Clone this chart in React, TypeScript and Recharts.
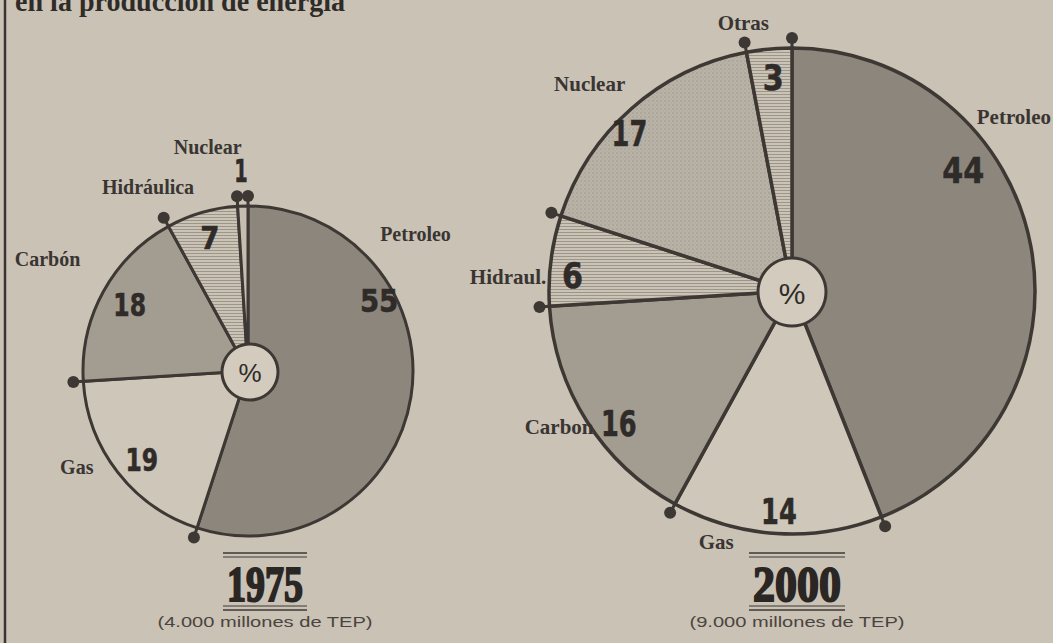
import React from 'react';
import { PieChart, Pie, Cell } from 'recharts';

// ---- data ----
const categories1975 = ['Petroleo', 'Gas', 'Carbón', 'Hidráulica', 'Nuclear'];
const values1975 = [55, 19, 18, 7, 1];
const categories2000 = ['Petroleo', 'Gas', 'Carbon', 'Hidraul.', 'Nuclear', 'Otras'];
const values2000 = [44, 14, 16, 6, 17, 3];
const title = 'en la producción de energía';
const year1975 = '1975';
const year2000 = '2000';
const sub1975 = '(4.000 millones de TEP)';
const sub2000 = '(9.000 millones de TEP)';
const hubText = '%';

// ---- styles ----
const BG = '#c9c2b5';
const INK = '#3d3834';
const fills1975 = ['#8c867d', '#cdc6b9', '#a39c91', 'url(#hatch)', '#c4bdb0'];
const fills2000 = ['#8c867d', '#cec7ba', '#a39c91', 'url(#hatch)', 'url(#speck)', 'url(#hatch)'];

// label layout (angle in degrees, radius factor)
const numPos1975: [number, number][] = [[28, 0.9], [-140, 0.84], [151, 0.82], [106, 0.84], [92, 1.21]];
const namePos1975: [number, number][] = [[39.2, 1.31], [-150.7, 1.19], [150.9, 1.39], [118.5, 1.27], [100.2, 1.38]];
const numPos2000: [number, number][] = [[35, 0.86], [-93.4, 0.91], [-142.4, 0.9], [176, 0.905], [136, 0.93], [95, 0.88]];
const namePos2000: [number, number][] = [[36.6, 1.2], [-106.8, 1.08], [210.3, 1.11], [177.2, 1.17], [134.4, 1.19], [100.3, 1.12]];

const data1975 = categories1975.map((name, i) => ({ name, value: values1975[i] }));
const data2000 = categories2000.map((name, i) => ({ name, value: values2000[i] }));
const hub = [{ name: 'hub', value: 1 }];

const RAD = Math.PI / 180;
const polar = (cx: number, cy: number, r: number, a: number) => ({
  x: cx + r * Math.cos(a * RAD),
  y: cy - r * Math.sin(a * RAD),
});

const makeLabel = (
  numPos: [number, number][],
  namePos: [number, number][],
  numSize: number,
  nameSize: number
) => (props: any) => {
  const { cx, cy, outerRadius, startAngle, index, name, value } = props;
  const R = Number(outerRadius);
  const n = numPos[index];
  const m = namePos[index];
  const np = polar(cx, cy, R * n[1], n[0]);
  let mp = polar(cx, cy, R * m[1], m[0]);
  const d0 = polar(cx, cy, R, startAngle);
  const d1 = polar(cx, cy, R + 10, startAngle);
  const str = String(value);
  const w = str.split('').reduce((s, c) => s + (c === '1' ? 0.42 : 0.6), 0) * numSize;
  // keep the right-edge name inside the picture
  let anchor: 'middle' | 'end' = 'middle';
  const approxW = String(name).length * nameSize * 0.47;
  if (mp.x + approxW / 2 > 1051) {
    anchor = 'end';
    mp = { x: 1051, y: mp.y };
  }
  return (
    <g key={`lbl-${index}`}>
      <line x1={d0.x} y1={d0.y} x2={d1.x} y2={d1.y} stroke={INK} strokeWidth={3} />
      <circle cx={d1.x} cy={d1.y} r={6} fill={INK} />
      <text
        x={np.x}
        y={np.y}
        textAnchor="middle"
        dominantBaseline="central"
        fontFamily="'DejaVu Sans', sans-serif"
        fontWeight="bold"
        fontSize={numSize}
        textLength={w}
        lengthAdjust="spacingAndGlyphs"
        fill="#2f2b28"
        stroke="#2f2b28"
        strokeWidth={0.6}
      >
        {value}
      </text>
      <text
        x={mp.x}
        y={mp.y}
        textAnchor={anchor}
        dominantBaseline="central"
        fontFamily="'Liberation Serif', 'DejaVu Serif', serif"
        fontWeight="bold"
        fontSize={nameSize}
        fill="#3a3532"
      >
        {name}
      </text>
    </g>
  );
};

const label1975 = makeLabel(numPos1975, namePos1975, 32, 20);
const label2000 = makeLabel(numPos2000, namePos2000, 35, 21);

const YearBlock = ({ x, year, sub, yearW, subW }: { x: number; year: string; sub: string; yearW: number; subW: number }) => (
  <g>
    <line x1={x - yearW / 2 - 4} x2={x + yearW / 2 + 4} y1={553} y2={553} stroke={INK} strokeWidth={1.5} />
    <line x1={x - yearW / 2 - 4} x2={x + yearW / 2 + 4} y1={557} y2={557} stroke={INK} strokeWidth={1} />
    <text
      x={x}
      y={601}
      textAnchor="middle"
      fontFamily="'Liberation Serif', 'DejaVu Serif', serif"
      fontWeight="bold"
      fontSize={50}
      textLength={yearW}
      lengthAdjust="spacingAndGlyphs"
      fill="#2a2624"
      stroke="#2a2624"
      strokeWidth={2}
    >
      {year}
    </text>
    <line x1={x - yearW / 2 - 4} x2={x + yearW / 2 + 4} y1={606} y2={606} stroke={INK} strokeWidth={1} />
    <line x1={x - yearW / 2 - 4} x2={x + yearW / 2 + 4} y1={610} y2={610} stroke={INK} strokeWidth={1.5} />
    <text
      x={x}
      y={627}
      textAnchor="middle"
      fontFamily="'Liberation Sans', sans-serif"
      fontSize={14}
      textLength={subW}
      lengthAdjust="spacingAndGlyphs"
      fill="#4a4440"
    >
      {sub}
    </text>
  </g>
);

const Hub = ({ cx, cy, r }: { cx: number; cy: number; r: number }) => (
  <>
    <Pie
      data={hub}
      dataKey="value"
      cx={cx}
      cy={cy}
      outerRadius={r}
      startAngle={90}
      endAngle={-270}
      fill="#d2cbbe"
      stroke="none"
      isAnimationActive={false}
    />
    <Pie
      data={hub}
      dataKey="value"
      cx={cx}
      cy={cy}
      innerRadius={r - 1.5}
      outerRadius={r + 1.5}
      startAngle={90}
      endAngle={-270}
      fill={INK}
      stroke="none"
      isAnimationActive={false}
    />
  </>
);

export default function App() {
  return (
    <div style={{ position: 'absolute', left: 0, top: 0, width: 1053, height: 643, background: BG, overflow: 'hidden' }}>
      <svg width={0} height={0} style={{ position: 'absolute' }}>
        <defs>
          <pattern id="hatch" width={4} height={3} patternUnits="userSpaceOnUse">
            <rect width={4} height={3} fill="#cac3b6" />
            <line x1={0} x2={4} y1={1.5} y2={1.5} stroke="#9c958a" strokeWidth={1} />
          </pattern>
          <pattern id="speck" width={4} height={4} patternUnits="userSpaceOnUse">
            <rect width={4} height={4} fill="#b9b2a6" />
            <circle cx={1} cy={1} r={0.8} fill="#9f988d" />
            <circle cx={3} cy={3} r={0.6} fill="#a8a195" />
          </pattern>
        </defs>
      </svg>
      <PieChart width={1053} height={643} margin={{ top: 0, right: 0, bottom: 0, left: 0 }}>
        <Pie
          data={data1975}
          dataKey="value"
          nameKey="name"
          cx={248}
          cy={371}
          outerRadius={165}
          innerRadius={0}
          startAngle={90}
          endAngle={-270}
          stroke={INK}
          strokeWidth={3}
          label={label1975}
          labelLine={false}
          isAnimationActive={false}
        >
          {data1975.map((d, i) => (
            <Cell key={d.name} fill={fills1975[i]} />
          ))}
        </Pie>
        {Hub({ cx: 250, cy: 372, r: 28 })}
        <Pie
          data={data2000}
          dataKey="value"
          nameKey="name"
          cx={792}
          cy={291}
          outerRadius={243}
          innerRadius={0}
          startAngle={90}
          endAngle={-270}
          stroke={INK}
          strokeWidth={3.5}
          label={label2000}
          labelLine={false}
          isAnimationActive={false}
        >
          {data2000.map((d, i) => (
            <Cell key={d.name} fill={fills2000[i]} />
          ))}
        </Pie>
        {Hub({ cx: 792, cy: 292, r: 34 })}
      </PieChart>
      <svg width={1053} height={643} style={{ position: 'absolute', left: 0, top: 0, pointerEvents: 'none' }}>
        <line x1={5} x2={5} y1={0} y2={643} stroke="#3a3532" strokeWidth={2.5} />
        <text
          x={15}
          y={11}
          fontFamily="'Liberation Serif', 'DejaVu Serif', serif"
          fontWeight="bold"
          fontSize={30}
          textLength={330}
          lengthAdjust="spacingAndGlyphs"
          fill="#2f2b28"
        >
          {title}
        </text>
        <text x={250} y={373} textAnchor="middle" dominantBaseline="central" fontFamily="'Liberation Sans', sans-serif" fontSize={26} fill="#2f2b28">
          {hubText}
        </text>
        <text x={792} y={293} textAnchor="middle" dominantBaseline="central" fontFamily="'Liberation Sans', sans-serif" fontSize={30} fill="#2f2b28">
          {hubText}
        </text>
        <YearBlock x={265} year={year1975} sub={sub1975} yearW={76} subW={215} />
        <YearBlock x={797} year={year2000} sub={sub2000} yearW={88} subW={215} />
      </svg>
    </div>
  );
}
